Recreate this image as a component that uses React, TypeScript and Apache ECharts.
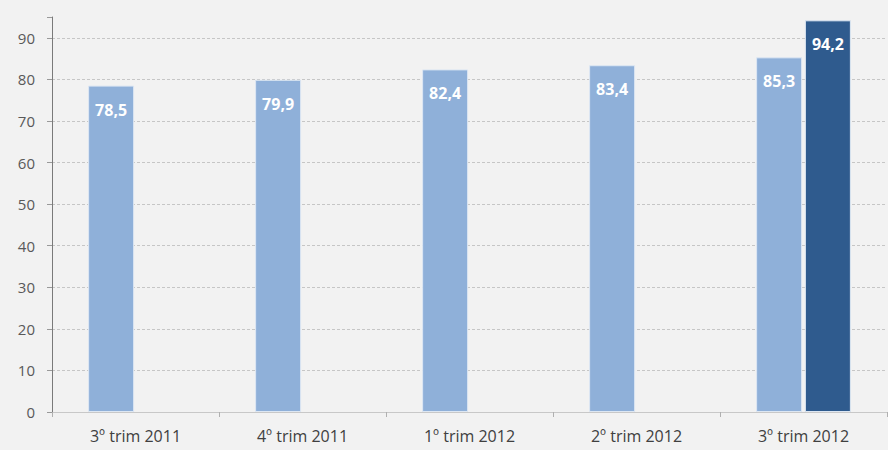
import React, { useEffect, useRef } from "react";
import * as echarts from "echarts";

const categories = ["3º trim 2011", "4º trim 2011", "1º trim 2012", "2º trim 2012", "3º trim 2012"];
const lightValues = [78.5, 79.9, 82.4, 83.4, 85.3];
const darkValues: (number | string)[] = ["-", "-", "-", "-", 94.2];
const yTicks = [0, 10, 20, 30, 40, 50, 60, 70, 80, 90];

const fmt = (v: number) => v.toFixed(1).replace(".", ",");

export default function App() {
  const ref = useRef<HTMLDivElement>(null);
  useEffect(() => {
    if (!ref.current) return;
    const chart = echarts.init(ref.current, undefined, { renderer: "svg" });
    const labelStyle = {
      show: true,
      position: "insideTop" as const,
      distance: 16,
      color: "#ffffff",
      fontWeight: "bold" as const,
      fontSize: 16,
      fontFamily: "Open Sans",
      formatter: (p: any) => fmt(p.value),
    };
    const gridColors = yTicks.map(() => "#c6c6c6").concat(["rgba(0,0,0,0)"]);
    chart.setOption({
      animation: false,
      backgroundColor: "#f2f2f2",
      grid: { left: 52, right: 1, top: 17, bottom: 38, containLabel: false },
      xAxis: {
        type: "category",
        data: categories,
        axisLine: { lineStyle: { color: "#c8c8c8" } },
        axisTick: { show: true, length: 5, lineStyle: { color: "#b0b0b0" } },
        axisLabel: { color: "#404040", fontSize: 16, fontFamily: "Open Sans", margin: 16 },
      },
      yAxis: {
        type: "value",
        min: 0,
        max: 95,
        interval: 10,
        axisLine: { show: true, lineStyle: { color: "#7a7a7a" } },
        axisTick: { show: true, length: 5, lineStyle: { color: "#999" } },
        axisLabel: {
          color: "#595959",
          fontSize: 15,
          fontFamily: "Open Sans",
          margin: 17,
          formatter: (v: number) => (yTicks.includes(v) ? String(v) : ""),
        },
        splitLine: { show: true, lineStyle: { color: gridColors, type: [3, 2], width: 1 } },
      },
      series: [
        {
          type: "bar",
          data: lightValues,
          barWidth: 46,
          barGap: "6%",
          itemStyle: { color: "#8fb0d9", borderColor: "#dde7f3", borderWidth: 1 },
          label: labelStyle,
        },
        {
          type: "bar",
          data: darkValues,
          barWidth: 46,
          barGap: "6%",
          itemStyle: { color: "#2f5b8e", borderColor: "#dde7f3", borderWidth: 1 },
          label: labelStyle,
        },
      ],
    });
    return () => chart.dispose();
  }, []);
  return (
    <div style={{ position: "fixed", left: 0, top: 0, width: 888, height: 450 }}>
      <div ref={ref} style={{ width: 888, height: 450 }} />
    </div>
  );
}
